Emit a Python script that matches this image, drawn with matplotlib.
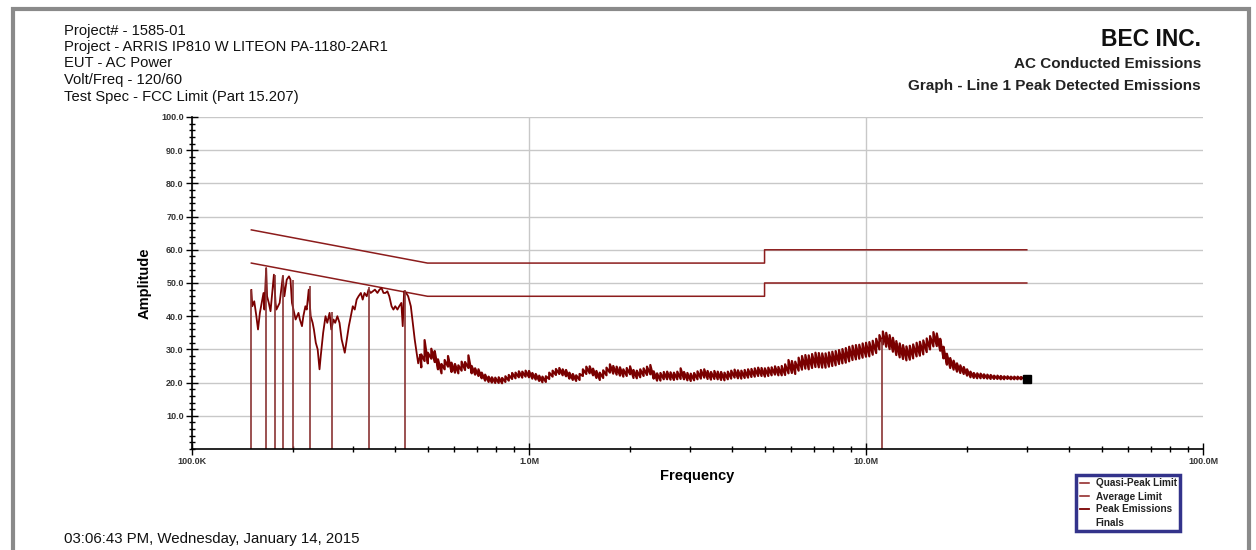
import numpy as np
import matplotlib
matplotlib.use("Agg")
import matplotlib.pyplot as plt
from matplotlib.lines import Line2D
from matplotlib.patches import Rectangle
from matplotlib.ticker import FixedLocator, NullFormatter, MultipleLocator

#%% Limits (FCC Part 15.207), frequency in MHz, level in dBuV
qp_freq = [0.15, 0.5, 5.0, 5.0, 30.0]
qp_level = [66.0, 56.0, 56.0, 60.0, 60.0]
avg_freq = [0.15, 0.5, 5.0, 5.0, 30.0]
avg_level = [56.0, 46.0, 46.0, 50.0, 50.0]

#%% Peak scan, low band (single trace)
scan_lo_freq = [0.150, 0.151, 0.153, 0.155, 0.157, 0.159, 0.161, 0.163, 0.164, 0.166,
                0.167, 0.169, 0.171, 0.173, 0.175, 0.177, 0.178, 0.180, 0.182, 0.186,
                0.188, 0.191, 0.194, 0.196, 0.198, 0.201, 0.203, 0.207, 0.209, 0.212,
                0.214, 0.217, 0.219, 0.222, 0.225, 0.228, 0.230, 0.233, 0.236, 0.239,
                0.241, 0.245, 0.249, 0.252, 0.256, 0.259, 0.263, 0.266, 0.270, 0.274,
                0.278, 0.281, 0.284, 0.288, 0.292, 0.296, 0.300, 0.304, 0.308, 0.312,
                0.317, 0.321, 0.325, 0.330, 0.334, 0.339, 0.344, 0.349, 0.355, 0.360,
                0.365, 0.370, 0.375, 0.380, 0.385, 0.391, 0.396, 0.401, 0.407, 0.412,
                0.418, 0.422, 0.426, 0.432, 0.438, 0.446, 0.452, 0.458, 0.464, 0.469,
                0.475]
scan_lo_level = [47.9, 43.0, 44.5, 40.5, 36.0, 41.0, 44.0, 47.0, 42.0, 54.5,
                 46.0, 44.0, 41.5, 47.0, 52.5, 44.0, 42.0, 43.0, 44.0, 52.0,
                 46.0, 51.0, 52.0, 51.0, 44.0, 41.0, 39.0, 41.0, 39.0, 37.0,
                 40.0, 43.0, 42.0, 48.0, 40.0, 38.0, 36.0, 32.0, 30.0, 24.0,
                 28.0, 35.0, 40.0, 38.0, 41.0, 36.0, 39.0, 38.0, 40.0, 38.0,
                 33.0, 31.0, 29.0, 33.0, 37.0, 40.0, 43.0, 42.0, 45.0, 46.0,
                 47.0, 45.0, 47.0, 46.0, 48.0, 47.0, 47.5, 48.0, 47.0, 48.0,
                 48.5, 47.0, 47.0, 47.5, 46.0, 43.0, 42.0, 43.0, 42.0, 43.0,
                 44.0, 37.0, 47.5, 47.0, 46.0, 43.0, 38.0, 33.0, 29.0, 25.8,
                 28.3]

#%% Peak scan, upper band (min/max per sweep bin)
scan_hi_freq = [0.479, 0.490, 0.501, 0.513, 0.525, 0.537, 0.550, 0.562, 0.575, 0.589,
                0.603, 0.617, 0.631, 0.646, 0.661, 0.676, 0.692, 0.708, 0.724, 0.741,
                0.759, 0.776, 0.794, 0.813, 0.832, 0.851, 0.871, 0.891, 0.912, 0.933,
                0.955, 0.977,
                1.000, 1.023, 1.047, 1.072, 1.096, 1.122, 1.148, 1.175, 1.202, 1.230,
                1.259, 1.288, 1.318, 1.349, 1.380, 1.413, 1.445, 1.479, 1.514, 1.549,
                1.585, 1.622, 1.660, 1.698, 1.738, 1.778, 1.820, 1.862, 1.905, 1.950,
                1.995, 2.042, 2.089, 2.138, 2.188, 2.239, 2.291, 2.344, 2.399, 2.455,
                2.512, 2.570, 2.630, 2.692, 2.754, 2.818, 2.884, 2.951, 3.020, 3.090,
                3.162, 3.236, 3.311, 3.388, 3.467, 3.548, 3.631, 3.715, 3.802, 3.890,
                3.981, 4.074, 4.169, 4.266, 4.365, 4.467, 4.571, 4.677, 4.786, 4.898,
                5.012, 5.129, 5.248, 5.370, 5.495, 5.623, 5.754, 5.888, 6.026, 6.166,
                6.310, 6.457, 6.607, 6.761, 6.918, 7.079, 7.244, 7.413, 7.586, 7.762,
                7.943, 8.128, 8.318, 8.511, 8.710, 8.913, 9.120, 9.333, 9.550, 9.772,
                10.00, 10.23, 10.47, 10.72, 10.96, 11.22, 11.48, 11.75, 12.02, 12.30,
                12.59, 12.88, 13.18, 13.49, 13.80, 14.13, 14.45, 14.79, 15.14, 15.49,
                15.85, 16.22, 16.60, 16.98, 17.38, 17.78, 18.20, 18.62, 19.05, 19.50,
                19.95, 20.42, 20.89, 21.38, 21.88, 22.39, 22.91, 23.44, 23.99, 24.55,
                25.12, 25.70, 26.30, 26.92, 27.54, 28.18, 28.84, 29.51, 30.00]
scan_hi_max = [28.5, 32.8, 29.0, 30.2, 29.5, 27.0, 25.6, 26.8, 28.0, 26.0,
               25.6, 25.2, 26.3, 26.2, 28.2, 25.0, 24.3, 24.0, 23.0, 22.4,
               21.8, 21.6, 21.5, 21.6, 21.4, 21.9, 22.3, 22.9, 23.0, 23.4,
               23.3, 23.6,
               23.5, 22.9, 22.6, 22.1, 21.8, 21.9, 23.0, 23.6, 24.1, 24.4,
               24.0, 23.8, 23.0, 22.6, 22.2, 22.6, 24.0, 24.8, 24.9, 24.2,
               23.5, 23.0, 23.7, 24.5, 25.5, 25.0, 24.8, 24.6, 24.0, 24.4,
               24.9, 23.8, 23.6, 24.0, 24.3, 24.8, 25.3, 23.4, 22.8, 22.9,
               23.2, 23.3, 23.1, 23.0, 23.3, 24.3, 23.2, 22.9, 22.7, 22.9,
               23.4, 23.8, 24.0, 23.5, 23.2, 23.5, 23.3, 23.2, 23.0, 23.3,
               23.6, 23.9, 23.7, 23.6, 23.8, 24.0, 24.1, 24.3, 24.5, 24.4,
               24.3, 24.5, 24.6, 24.9, 24.7, 25.0, 25.5, 26.8, 26.5, 26.3,
               27.5, 28.0, 28.3, 28.2, 28.6, 29.0, 28.9, 28.8, 28.8, 29.1,
               29.3, 29.5, 29.8, 30.1, 30.4, 30.8, 31.1, 31.3, 31.4, 31.8,
               32.0, 32.2, 32.6, 33.2, 34.3, 35.4, 35.0, 34.3, 33.5, 32.5,
               31.8, 31.3, 30.9, 31.1, 31.5, 32.0, 32.3, 32.7, 33.3, 34.0,
               35.2, 34.8, 33.2, 30.8, 28.7, 27.4, 26.6, 25.8, 25.2, 24.7,
               24.0, 23.3, 22.9, 22.8, 22.7, 22.5, 22.4, 22.3, 22.1, 22.1,
               22.0, 21.9, 21.9, 21.8, 21.8, 21.8, 21.7, 21.6, 21.6]
scan_hi_min = [24.6, 26.5, 25.8, 27.2, 26.2, 24.0, 22.8, 24.0, 24.8, 23.2,
               23.0, 22.8, 23.6, 23.8, 24.4, 22.8, 22.4, 22.0, 21.3, 20.6,
               20.2, 20.0, 19.9, 19.9, 19.8, 20.2, 20.6, 21.1, 21.3, 21.6,
               21.5, 21.8,
               21.6, 21.2, 20.9, 20.5, 20.1, 20.2, 21.1, 21.8, 22.3, 22.6,
               22.2, 21.9, 21.2, 20.8, 20.5, 20.8, 22.0, 22.6, 22.8, 22.2,
               21.4, 20.8, 21.4, 22.2, 23.0, 22.7, 22.4, 22.1, 21.8, 22.0,
               22.5, 21.4, 21.3, 21.6, 22.0, 22.3, 22.5, 21.2, 20.6, 20.6,
               21.0, 21.0, 20.9, 20.8, 21.0, 21.1, 21.0, 20.7, 20.5, 20.7,
               21.0, 21.2, 21.5, 21.1, 20.9, 21.1, 21.0, 20.8, 20.7, 21.0,
               21.2, 21.5, 21.3, 21.2, 21.4, 21.5, 21.7, 21.8, 22.0, 22.0,
               21.8, 22.0, 22.2, 22.4, 22.2, 22.2, 22.3, 22.8, 22.9, 22.6,
               23.6, 23.9, 24.2, 24.0, 24.4, 24.7, 24.6, 24.5, 24.5, 24.8,
               25.0, 25.2, 25.6, 25.8, 26.0, 26.4, 26.8, 27.0, 27.2, 27.5,
               27.8, 27.9, 28.4, 28.9, 30.0, 31.5, 30.8, 30.1, 29.3, 28.3,
               27.6, 27.1, 26.7, 26.9, 27.3, 27.9, 28.1, 28.5, 29.2, 30.0,
               30.9, 31.0, 29.6, 27.3, 25.4, 24.4, 23.9, 23.3, 22.9, 22.6,
               22.1, 21.6, 21.4, 21.3, 21.3, 21.3, 21.2, 21.1, 21.1, 21.1,
               21.0, 21.0, 21.1, 21.0, 21.0, 21.0, 21.0, 21.0, 21.0]

#%% Final measurements
finals_freq = [0.150, 0.1655, 0.1763, 0.1862, 0.1998, 0.2236, 0.2609, 0.3358, 0.4295, 11.13]
finals_level = [47.9, 54.6, 52.4, 52.4, 51.0, 49.1, 41.3, 48.9, 47.9, 33.0]

#%% Header
header_left = ["Project# - 1585-01",
               "Project - ARRIS IP810 W LITEON PA-1180-2AR1",
               "EUT - AC Power",
               "Volt/Freq - 120/60",
               "Test Spec - FCC Limit (Part 15.207)"]
header_right = ["BEC INC.", "AC Conducted Emissions",
                "Graph - Line 1 Peak Detected Emissions"]
timestamp = "03:06:43 PM, Wednesday, January 14, 2015"

W, H = 1256, 550
C_LIMIT = '#8c1c1c'
C_PEAK = '#7a0000'
C_FINAL = '#8a3434'
NARROW = ['Liberation Sans Narrow', 'Liberation Sans', 'DejaVu Sans']
plt.rcParams['font.family'] = ['Liberation Sans', 'DejaVu Sans']

def fx(x):
    return x / W

def fy(y):
    return 1 - y / H

fig = plt.figure(figsize=(W / 100, H / 100), dpi=100)
fig.add_artist(Rectangle((fx(13), -0.05), fx(1249 - 13), fy(9) + 0.05,
                         transform=fig.transFigure, fill=False,
                         edgecolor='#8a8a8a', lw=3))

ax = fig.add_axes([fx(192), fy(449), fx(1203 - 192), (449 - 117) / H])
ax.set_xscale('log')
ax.set_xlim(0.1, 100)
ax.set_ylim(0, 100)

# limits
l_qp, = ax.plot(qp_freq, qp_level, color=C_LIMIT, lw=1.1)
l_avg, = ax.plot(avg_freq, avg_level, color=C_LIMIT, lw=1.1)

# peak emissions: low band as a line, upper band as min/max strokes per bin
l_pk, = ax.plot(scan_lo_freq, scan_lo_level, color=C_PEAK, lw=1.3)
zig_f = np.repeat(scan_hi_freq, 2)
zig_v = np.column_stack([scan_hi_min, scan_hi_max]).ravel()
ax.plot(np.r_[scan_lo_freq[-1], zig_f], np.r_[scan_lo_level[-1], zig_v],
        color=C_PEAK, lw=1.6)
ax.plot(scan_hi_freq[-1], scan_hi_min[-1], 's', color='black', ms=6, zorder=5)

# finals
ax.vlines(finals_freq, 0, finals_level, color=C_FINAL, lw=1.2)

# axes style
ax.set_yticks(np.arange(10, 101, 10))
ax.set_yticklabels(['%.1f' % v for v in np.arange(10, 101, 10)])
ax.yaxis.set_minor_locator(MultipleLocator(2))
ax.xaxis.set_major_locator(FixedLocator([0.1, 1, 10, 100]))
ax.set_xticklabels(['100.0K', '1.0M', '10.0M', '100.0M'])
minor_x = [m * d for d in (0.1, 1, 10) for m in range(2, 10)]
ax.xaxis.set_minor_locator(FixedLocator(minor_x))
ax.xaxis.set_minor_formatter(NullFormatter())
ax.tick_params(which='major', direction='inout', length=8, width=1, color='black')
ax.tick_params(which='minor', direction='inout', length=5, width=1, color='black')
ax.tick_params(axis='both', which='major', labelsize=6.5, labelcolor='#333333', pad=2)
for lab in ax.get_xticklabels() + ax.get_yticklabels():
    lab.set_family(NARROW)
    lab.set_fontweight('bold')
ax.grid(True, which='major', color='#c8c8c8', lw=1)
ax.xaxis.get_gridlines()[-1].set_visible(False)
for s in ('top', 'right'):
    ax.spines[s].set_visible(False)
ax.spines['left'].set_linewidth(1.2)
ax.spines['bottom'].set_linewidth(1.2)
ax.set_axisbelow(True)

ax.set_ylabel('Amplitude', fontsize=10.5, fontweight='bold', family=NARROW, labelpad=7)
ax.set_xlabel('Frequency', fontsize=10.5, fontweight='bold', family=NARROW, labelpad=2)

# legend
l_fin = Line2D([], [], color='none')
leg = ax.legend([l_qp, l_avg, l_pk, l_fin],
                ['Quasi-Peak Limit', 'Average Limit', 'Peak Emissions', 'Finals'],
                loc='upper left', bbox_to_anchor=(fx(1076), fy(475)),
                bbox_transform=fig.transFigure, fontsize=7.2, frameon=True,
                fancybox=False, handlelength=0.9, handletextpad=0.7,
                borderpad=0.35, labelspacing=0.3, borderaxespad=0)
leg.get_frame().set_edgecolor('#00006e')
leg.get_frame().set_linewidth(2.5)
for t in leg.get_texts():
    t.set_fontweight('bold')
    t.set_color('#222222')

# header text
for txt, y in zip(header_left, [31, 47, 63, 80, 97]):
    fig.text(fx(64), fy(y), txt, fontsize=10.6, va='center', ha='left', color='#111111')
fig.text(fx(1201), fy(40), header_right[0], fontsize=16.5, fontweight='bold',
         ha='right', va='center', color='#111111')
fig.text(fx(1201), fy(64), header_right[1], fontsize=11, fontweight='bold',
         ha='right', va='center', color='#222222')
fig.text(fx(1201), fy(86), header_right[2], fontsize=11, fontweight='bold',
         ha='right', va='center', color='#222222')
fig.text(fx(64), fy(539), timestamp, fontsize=10.8, ha='left', va='center', color='#111111')

fig.savefig('out.png', dpi=100)
